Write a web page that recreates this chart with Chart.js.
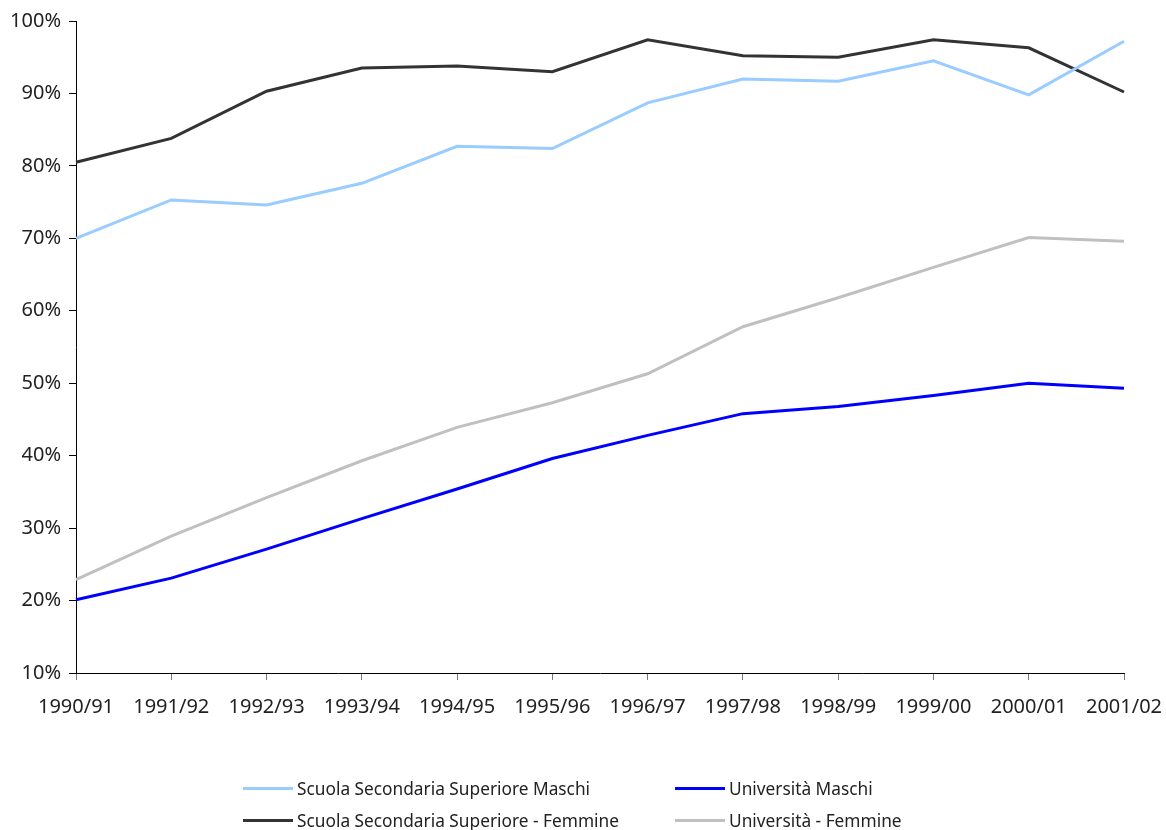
<!DOCTYPE html>
<html>
<head>
<meta charset="utf-8">
<script src="https://cdn.jsdelivr.net/npm/chart.js@4"></script>
<style>
  html, body { margin: 0; padding: 0; background: #fff; }
  #wrap { position: relative; width: 1166px; height: 830px; }
  #c { position: absolute; left: 0; top: 0; }
  .leg { position: absolute; font-family: "Noto Sans", sans-serif; font-size: 17.3px; color: #222; display: flex; align-items: center; white-space: nowrap; }
  .leg span.sw { display: inline-block; width: 50px; height: 3px; margin-right: 4px; }
</style>
</head>
<body>
<div id="wrap">
  <canvas id="c" width="1166" height="830"></canvas>
  <div id="legend"></div>
</div>
<script>
const categories = ["1990/91","1991/92","1992/93","1993/94","1994/95","1995/96","1996/97","1997/98","1998/99","1999/00","2000/01","2001/02"];
const sssMaschi  = [70.0, 75.3, 74.6, 77.6, 82.7, 82.4, 88.7, 92.0, 91.7, 94.5, 89.8, 97.2];
const sssFemmine = [80.5, 83.8, 90.3, 93.5, 93.8, 93.0, 97.4, 95.2, 95.0, 97.4, 96.3, 90.2];
const uniMaschi  = [20.1, 23.1, 27.1, 31.3, 35.4, 39.6, 42.8, 45.8, 46.8, 48.3, 50.0, 49.3];
const uniFemmine = [22.9, 28.9, 34.2, 39.3, 43.9, 47.3, 51.3, 57.8, 61.8, 66.0, 70.1, 69.6];
const seriesNames = ["Scuola Secondaria Superiore Maschi", "Università Maschi", "Scuola Secondaria Superiore - Femmine", "Università - Femmine"];
const yTicks = [10, 20, 30, 40, 50, 60, 70, 80, 90, 100];

const colors = { sssM: "#99ccff", uniM: "#0000ff", sssF: "#333333", uniF: "#c0c0c0" };

const datasets = [
  { label: seriesNames[0], data: sssMaschi, borderColor: colors.sssM },
  { label: seriesNames[1], data: uniMaschi, borderColor: colors.uniM },
  { label: seriesNames[2], data: sssFemmine, borderColor: colors.sssF },
  { label: seriesNames[3], data: uniFemmine, borderColor: colors.uniF }
].map(d => Object.assign(d, { borderWidth: 3, pointRadius: 0, tension: 0, fill: false }));

const font = { family: "Noto Sans", size: 20 };

new Chart(document.getElementById("c"), {
  type: "line",
  data: { labels: categories, datasets },
  options: {
    responsive: false,
    animation: false,
    layout: { padding: { top: 21, right: 42, left: 0, bottom: 0 } },
    plugins: { legend: { display: false }, tooltip: { enabled: false } },
    scales: {
      x: {
        offset: false,
        grid: { drawOnChartArea: false, drawTicks: true, tickLength: 7, color: "#777" },
        border: { display: true, color: "#000", width: 1 },
        ticks: { color: "#222", font, maxRotation: 0, autoSkip: false, padding: 15 },
        afterFit: s => { s.height = 157; s.paddingLeft = 0; s.paddingRight = 0; }
      },
      y: {
        min: 10, max: 100,
        afterBuildTicks: s => { s.ticks = yTicks.map(v => ({ value: v })); },
        grid: { drawOnChartArea: false, drawTicks: true, tickLength: 7, color: "#000" },
        border: { display: true, color: "#000", width: 1 },
        ticks: { color: "#222", font, padding: 8, callback: v => v + "%" },
        afterFit: s => { s.width = 76; s.paddingTop = 0; s.paddingBottom = 0; }
      }
    }
  }
});

const legendPos = [
  { x: 243, y: 788 }, { x: 675, y: 788 }, { x: 243, y: 820 }, { x: 675, y: 820 }
];
const legEl = document.getElementById("legend");
datasets.forEach((d, i) => {
  const div = document.createElement("div");
  div.className = "leg";
  div.style.left = legendPos[i].x + "px";
  div.style.top = (legendPos[i].y - 12) + "px";
  div.style.height = "24px";
  const sw = document.createElement("span");
  sw.className = "sw";
  sw.style.background = d.borderColor;
  div.appendChild(sw);
  div.appendChild(document.createTextNode(d.label));
  legEl.appendChild(div);
});
</script>
</body>
</html>
